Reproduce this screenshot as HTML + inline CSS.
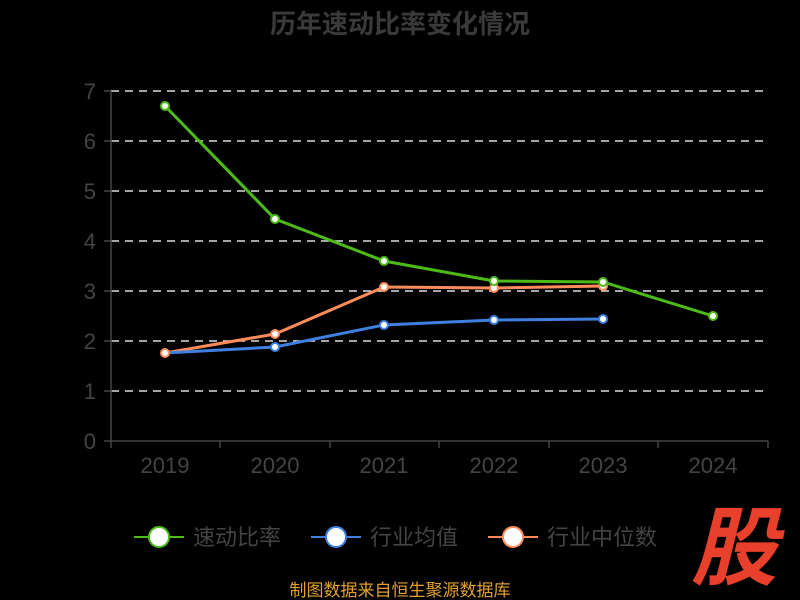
<!DOCTYPE html>
<html><head><meta charset="utf-8"><style>
html,body{margin:0;padding:0;background:#000;}
svg{display:block;font-family:"Liberation Sans","Noto Sans CJK SC",sans-serif;}
</style></head><body>
<svg width="800" height="600" viewBox="0 0 800 600">
<rect width="800" height="600" fill="#000"/>
<text x="400" y="33" text-anchor="middle" font-size="26" font-weight="bold" fill="#3a3a3a">历年速动比率变化情况</text>
<g stroke="#ddd" stroke-width="1.5" stroke-dasharray="8,6">
<line x1="111" y1="91" x2="768" y2="91"/><line x1="111" y1="141" x2="768" y2="141"/>
<line x1="111" y1="191" x2="768" y2="191"/><line x1="111" y1="241" x2="768" y2="241"/>
<line x1="111" y1="291" x2="768" y2="291"/><line x1="111" y1="341" x2="768" y2="341"/>
<line x1="111" y1="391" x2="768" y2="391"/>
</g>
<g stroke="#444" stroke-width="1.5">
<line x1="111" y1="91" x2="111" y2="441"/><line x1="111" y1="441" x2="768" y2="441"/>
<line x1="104" y1="91" x2="111" y2="91"/><line x1="104" y1="141" x2="111" y2="141"/><line x1="104" y1="191" x2="111" y2="191"/><line x1="104" y1="241" x2="111" y2="241"/><line x1="104" y1="291" x2="111" y2="291"/><line x1="104" y1="341" x2="111" y2="341"/><line x1="104" y1="391" x2="111" y2="391"/><line x1="104" y1="441" x2="111" y2="441"/>
<line x1="111" y1="441" x2="111" y2="448"/><line x1="220" y1="441" x2="220" y2="448"/><line x1="330" y1="441" x2="330" y2="448"/><line x1="439" y1="441" x2="439" y2="448"/><line x1="549" y1="441" x2="549" y2="448"/><line x1="658" y1="441" x2="658" y2="448"/><line x1="768" y1="441" x2="768" y2="448"/>
</g>
<g fill="#444" font-size="22" text-anchor="end">
<text x="96" y="99">7</text><text x="96" y="149">6</text><text x="96" y="199">5</text><text x="96" y="249">4</text><text x="96" y="299">3</text><text x="96" y="349">2</text><text x="96" y="399">1</text><text x="96" y="449">0</text>
</g>
<g fill="#444" font-size="22" text-anchor="middle">
<text x="165" y="473">2019</text><text x="275" y="473">2020</text><text x="384" y="473">2021</text><text x="494" y="473">2022</text><text x="603" y="473">2023</text><text x="713" y="473">2024</text>
</g>
<polyline fill="none" stroke="#ff8c5a" stroke-width="3" points="165,353 275,334 384,287 494,288 603,286"/>
<polyline fill="none" stroke="#3f7fe0" stroke-width="3" points="165,353 275,347 384,325 494,320 603,319"/>
<polyline fill="none" stroke="#4cbb17" stroke-width="3" points="165,106 275,219 384,261 494,281 603,282 713,316"/>
<g fill="#fff" stroke="#ff8c5a" stroke-width="2"><circle cx="165" cy="353" r="4"/><circle cx="275" cy="334" r="4"/><circle cx="384" cy="287" r="4"/><circle cx="494" cy="288" r="4"/><circle cx="603" cy="286" r="4"/></g>
<g fill="#fff" stroke="#3f7fe0" stroke-width="2"><circle cx="275" cy="347" r="4"/><circle cx="384" cy="325" r="4"/><circle cx="494" cy="320" r="4"/><circle cx="603" cy="319" r="4"/></g>
<g fill="#fff" stroke="#4cbb17" stroke-width="2"><circle cx="165" cy="106" r="4"/><circle cx="275" cy="219" r="4"/><circle cx="384" cy="261" r="4"/><circle cx="494" cy="281" r="4"/><circle cx="603" cy="282" r="4"/><circle cx="713" cy="316" r="4"/></g>
<g font-size="22" fill="#444">
<line x1="134" y1="537" x2="184" y2="537" stroke="#4cbb17" stroke-width="2"/><circle cx="159" cy="537" r="10" fill="#fff" stroke="#4cbb17" stroke-width="2"/>
<text x="193" y="545">速动比率</text>
<line x1="311" y1="537" x2="361" y2="537" stroke="#3f7fe0" stroke-width="2"/><circle cx="336" cy="537" r="10" fill="#fff" stroke="#3f7fe0" stroke-width="2"/>
<text x="370" y="545">行业均值</text>
<line x1="488" y1="537" x2="538" y2="537" stroke="#ff8c5a" stroke-width="2"/><circle cx="513" cy="537" r="10" fill="#fff" stroke="#ff8c5a" stroke-width="2"/>
<text x="547" y="545">行业中位数</text>
</g>
<text x="400" y="596" text-anchor="middle" font-size="17" fill="#e0a030">制图数据来自恒生聚源数据库</text>
<text x="734" y="578" text-anchor="middle" font-size="86" font-weight="bold" font-style="italic" fill="#e8402a">股</text>
</svg>
</body></html>
